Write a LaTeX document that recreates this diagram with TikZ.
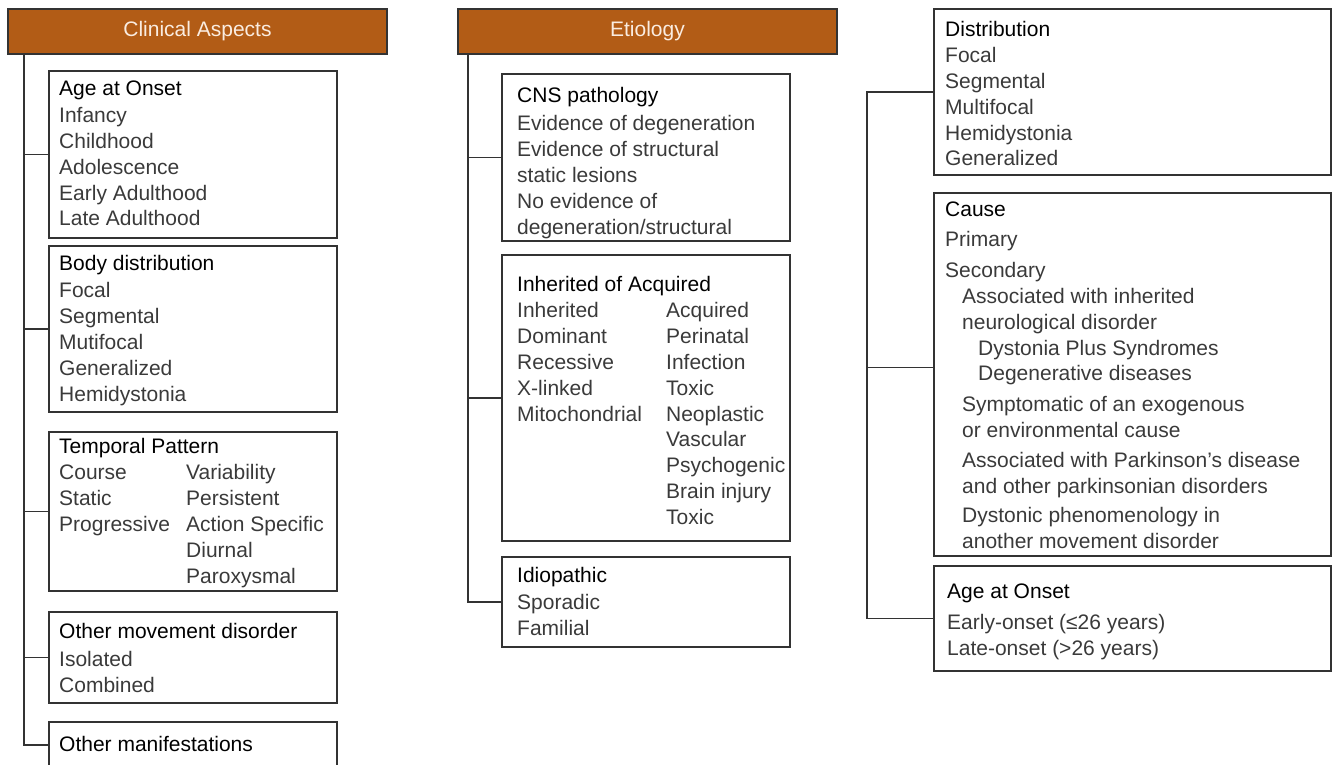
\documentclass[tikz,border=0pt]{standalone}
\usepackage{fontspec}
\setmainfont{Liberation Sans}
\usetikzlibrary{positioning}
\def\boxlinewidth{1.5pt}
\def\boxdrawcolor{black!80}
\def\boxwidth{288pt}
\def\rightboxwidth{397pt}
\def\headerwidth{379pt}
\def\headerheight{45pt}
\def\textsize{\fontsize{21}{25.8}\selectfont}
\definecolor{headerfill}{RGB}{178,92,22}
\definecolor{headertext}{RGB}{250,236,224}
\definecolor{itemcolor}{RGB}{58,58,58}
\newcommand{\boxtitle}[1]{\textcolor{black}{#1}}
\tikzset{
	% column headers
	header/.style={
		draw=\boxdrawcolor,
		line width=\boxlinewidth,
		fill=headerfill,
		text=headertext,
		font=\textsize,
		minimum width=\headerwidth,
		minimum height=\headerheight,
		anchor=north west,
		inner sep=0pt,
		outer sep=0pt,
	},
	% category boxes
	category/.style={
		draw=\boxdrawcolor,
		line width=\boxlinewidth,
		shape=rectangle,
		minimum width=\boxwidth,
		anchor=north west,
		inner sep=0pt,
		outer sep=0pt,
	},
	% box contents
	entries/.style={
		anchor=base west,
		inner sep=0pt,
		text=itemcolor,
		font=\textsize,
	},
	% connections
	connection/.style={
		draw=\boxdrawcolor,
		line width=\boxlinewidth,
	}
}

\begin{document}
\begin{tikzpicture}[x=1pt,y=1pt]
	\useasboundingbox (0,0) rectangle (1333,-765);
	%
	% clinical aspects
	\node[header] (clinical) at (8,-9) {Clinical Aspects};
	%
	\node[category, minimum height=167pt] (onset) at (49,-71) {};
	\node[category, minimum height=166pt, below=8pt of onset] (bodydist) {};
	\node[category, minimum height=159pt, below=20pt of bodydist] (temporal) {};
	\node[category, minimum height=91pt, below=21pt of temporal] (othermove) {};
	\node[category, minimum height=46pt, below=19pt of othermove] (othermanif) {};
	%
	\node[entries] (onsettext) at ([xshift=10pt, yshift=-25pt]onset.north west) {%
		\begin{tabular}[t]{@{}l@{}}
			\boxtitle{Age at Onset}\\[1pt]
			Infancy\\
			Childhood\\
			Adolescence\\
			Early Adulthood\\
			Late Adulthood
		\end{tabular}};
	%
	\node[entries] (bodydisttext) at ([xshift=10pt, yshift=-24pt]bodydist.north west) {%
		\begin{tabular}[t]{@{}l@{}}
			\boxtitle{Body distribution}\\[2pt]
			Focal\\
			Segmental\\
			Mutifocal\\
			Generalized\\
			Hemidystonia
		\end{tabular}};
	%
	\node[entries] (temporaltext) at ([xshift=10pt, yshift=-21pt]temporal.north west) {%
		\begin{tabular}[t]{@{}p{127pt}@{}l@{}}
			\multicolumn{2}{@{}l@{}}{\boxtitle{Temporal Pattern}}\\[1pt]
			Course & Variability\\
			Static & Persistent\\
			Progressive & Action Specific\\
			 & Diurnal\\
			 & Paroxysmal
		\end{tabular}};
	%
	\node[entries] (othermovetext) at ([xshift=10pt, yshift=-26pt]othermove.north west) {%
		\begin{tabular}[t]{@{}l@{}}
			\boxtitle{Other movement disorder}\\[3pt]
			Isolated\\
			Combined
		\end{tabular}};
	%
	\node[entries] (othermaniftext) at ([xshift=10pt, yshift=-29pt]othermanif.north west) {%
		\begin{tabular}[t]{@{}l@{}}
			\boxtitle{Other manifestations}
		\end{tabular}};
	%
	% etiology
	\node[header] (etiology) at (458,-9) {Etiology};
	%
	\node[category, minimum height=167pt] (cns) at (502,-74) {};
	\node[category, minimum height=286pt, below=14pt of cns] (inherit) {};
	\node[category, minimum height=90pt, below=16pt of inherit] (idiopathic) {};
	%
	\node[entries] (cnstext) at ([xshift=15pt, yshift=-29pt]cns.north west) {%
		\begin{tabular}[t]{@{}l@{}}
			\boxtitle{CNS pathology}\\[2pt]
			Evidence of degeneration\\
			Evidence of structural\\
			static lesions\\
			No evidence of\\
			degeneration/structural
		\end{tabular}};
	%
	\node[entries] (inherittext) at ([xshift=15pt, yshift=-36pt]inherit.north west) {%
		\begin{tabular}[t]{@{}p{149pt}@{}l@{}}
			\multicolumn{2}{@{}l@{}}{\boxtitle{Inherited of Acquired}}\\[1pt]
			Inherited & Acquired\\
			Dominant & Perinatal\\
			Recessive & Infection\\
			X-linked & Toxic\\
			Mitochondrial & Neoplastic\\
			 & Vascular\\
			 & Psychogenic\\
			 & Brain injury\\
			 & Toxic
		\end{tabular}};
	%
	\node[entries] (idiopathictext) at ([xshift=15pt, yshift=-25pt]idiopathic.north west) {%
		\begin{tabular}[t]{@{}l@{}}
			\boxtitle{Idiopathic}\\[2pt]
			Sporadic\\
			Familial
		\end{tabular}};
	%
	% dystonia classification
	\node[category, minimum width=\rightboxwidth, minimum height=166pt] (distrib) at (934,-9) {};
	\node[category, minimum width=\rightboxwidth, minimum height=363pt, below=18pt of distrib] (cause) {};
	\node[category, minimum width=\rightboxwidth, minimum height=105pt, below=10pt of cause] (onsetage) {};
	%
	\node[entries] (distribtext) at ([xshift=11pt, yshift=-28pt]distrib.north west) {%
		\begin{tabular}[t]{@{}l@{}}
			\boxtitle{Distribution}\\[0pt]
			Focal\\
			Segmental\\
			Multifocal\\
			Hemidystonia\\
			Generalized
		\end{tabular}};
	%
	\node[entries] (causetext) at ([xshift=11pt, yshift=-23pt]cause.north west) {%
		\begin{tabular}[t]{@{}l@{}}
			\boxtitle{Cause}\\[5pt]
			Primary\\[5pt]
			Secondary\\
			\hspace*{17pt}Associated with inherited\\
			\hspace*{17pt}neurological disorder\\
			\hspace*{33pt}Dystonia Plus Syndromes\\
			\hspace*{33pt}Degenerative diseases\\[5pt]
			\hspace*{17pt}Symptomatic of an exogenous\\
			\hspace*{17pt}or environmental cause\\[4pt]
			\hspace*{17pt}Associated with Parkinson’s disease\\
			\hspace*{17pt}and other parkinsonian disorders\\[4pt]
			\hspace*{17pt}Dystonic phenomenology in\\
			\hspace*{17pt}another movement disorder
		\end{tabular}};
	%
	\node[entries] (onsetagetext) at ([xshift=13pt, yshift=-32pt]onsetage.north west) {%
		\begin{tabular}[t]{@{}l@{}}
			\boxtitle{Age at Onset}\\[6pt]
			Early-onset (≤26 years)\\
			Late-onset (>26 years)
		\end{tabular}};
	%
	% connections
	\coordinate (ltrunk) at ([xshift=16pt]clinical.south west);
	\draw[connection] (ltrunk) |- (othermanif.west);
	\foreach \n in {onset, bodydist, temporal, othermove}
		\draw[connection] (\n.west) -- (ltrunk |- \n.west);
	%
	\coordinate (mtrunk) at ([xshift=10pt]etiology.south west);
	\draw[connection] (mtrunk) |- (idiopathic.west);
	\foreach \n in {cns, inherit}
		\draw[connection] (\n.west) -- (mtrunk |- \n.west);
	%
	\coordinate (rtrunk) at ([xshift=-67pt]distrib.west);
	\coordinate (causelink) at ([yshift=7pt]cause.west);
	\draw[connection] (distrib.west) -- (rtrunk) |- (onsetage.west);
	\draw[connection] (causelink) -- (rtrunk |- causelink);
\end{tikzpicture}
\end{document}
